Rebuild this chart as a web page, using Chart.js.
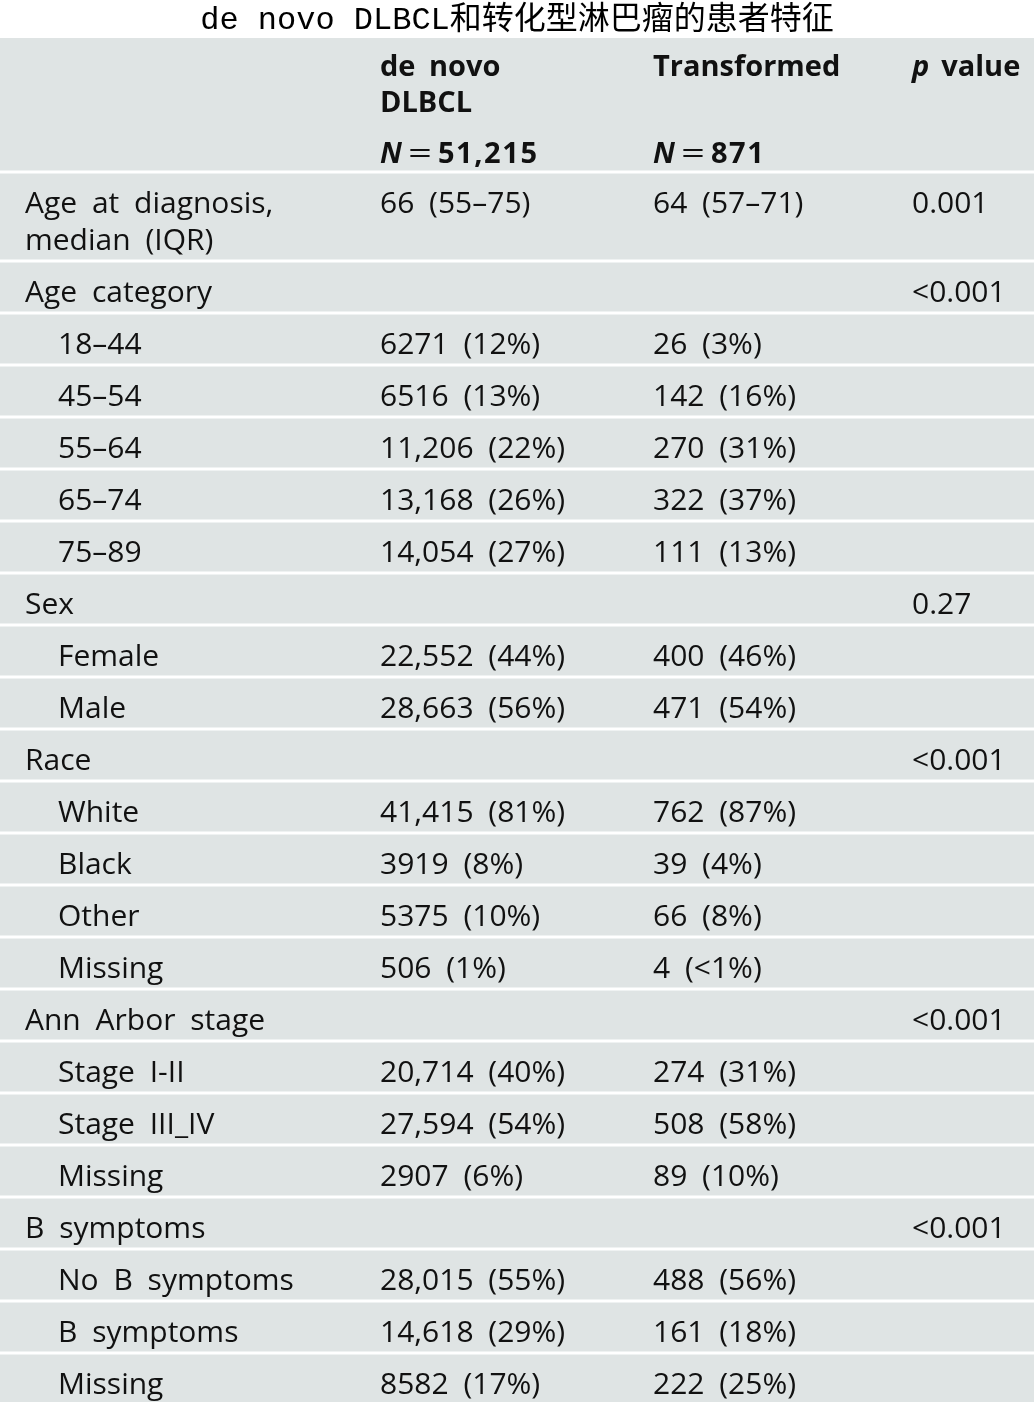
<!DOCTYPE html>
<html>
<head>
<meta charset="utf-8">
<script src="https://cdn.jsdelivr.net/npm/chart.js@4.4.1/dist/chart.umd.min.js"></script>
<style>
  html, body { margin: 0; padding: 0; background: #fff; }
</style>
</head>
<body>
<canvas id="tbl" width="1034" height="1402"></canvas>
<script>
// table content
const titleText = 'de novo DLBCL和转化型淋巴瘤的患者特征';
const colHeads = [['de novo', 'DLBCL'], ['Transformed'], ['value']];
const groupN = ['51,215', '871'];

const rowLabels = [
  'Age at diagnosis,\nmedian (IQR)', 'Age category', '18–44', '45–54', '55–64', '65–74', '75–89',
  'Sex', 'Female', 'Male',
  'Race', 'White', 'Black', 'Other', 'Missing',
  'Ann Arbor stage', 'Stage I-II', 'Stage III_IV', 'Missing',
  'B symptoms', 'No B symptoms', 'B symptoms', 'Missing'
];
const rowLevel = [0, 0, 1, 1, 1, 1, 1, 0, 1, 1, 0, 1, 1, 1, 1, 0, 1, 1, 1, 0, 1, 1, 1];
const deNovo = [
  '66 (55–75)', '', '6271 (12%)', '6516 (13%)', '11,206 (22%)', '13,168 (26%)', '14,054 (27%)',
  '', '22,552 (44%)', '28,663 (56%)',
  '', '41,415 (81%)', '3919 (8%)', '5375 (10%)', '506 (1%)',
  '', '20,714 (40%)', '27,594 (54%)', '2907 (6%)',
  '', '28,015 (55%)', '14,618 (29%)', '8582 (17%)'
];
const transformed = [
  '64 (57–71)', '', '26 (3%)', '142 (16%)', '270 (31%)', '322 (37%)', '111 (13%)',
  '', '400 (46%)', '471 (54%)',
  '', '762 (87%)', '39 (4%)', '66 (8%)', '4 (<1%)',
  '', '274 (31%)', '508 (58%)', '89 (10%)',
  '', '488 (56%)', '161 (18%)', '222 (25%)'
];
const pValues = [
  '0.001', '<0.001', '', '', '', '', '',
  '0.27', '', '',
  '<0.001', '', '', '', '',
  '<0.001', '', '', '',
  '<0.001', '', '', ''
];

const FAMILY = "'Open Sans', 'Noto Sans', sans-serif";
const FS = 30, FSB = 29;
const BG = '#dfe4e4';
const colX = [25, 58, 380, 653, 912]; // label, indented label, three value columns
const headH = 134, rowH = 52, lineH = 37;

function rowHeight(i) { return rowLabels[i].split('\n').length > 1 ? rowH + lineH : rowH; }
const tableH = 1364;

// draw text word by word with wider gaps, like the typeset original
function spaced(ctx, text, x, y, extra) {
  const sp = ctx.measureText(' ').width + extra;
  text.split(' ').forEach(w => {
    ctx.fillText(w, x, y);
    x += ctx.measureText(w).width + sp;
  });
  return x - sp;
}

const tablePlugin = {
  id: 'tableCells',
  beforeDatasetsDraw(chart) {
    const { ctx, scales: { x, y } } = chart;
    const px = v => x.getPixelForValue(v);
    const py = v => y.getPixelForValue(v);
    ctx.save();
    ctx.fillStyle = BG;
    ctx.fillRect(px(0), py(0), px(1034) - px(0), py(tableH) - py(0));
    ctx.fillStyle = '#111';
    ctx.textBaseline = 'alphabetic';

    // header
    const bold = 'bold ' + FSB + 'px ' + FAMILY;
    const boldIt = 'italic bold ' + FSB + 'px ' + FAMILY;
    colHeads.forEach((lines, c) => {
      lines.forEach((t, k) => {
        let xx = px(colX[c + 2]);
        if (c === 2) {
          ctx.font = boldIt;
          ctx.fillText('p', xx, py(38));
          xx += ctx.measureText('p').width + 12;
        }
        ctx.font = bold;
        spaced(ctx, t, xx, py(38 + k * 36), 6);
      });
    });
    groupN.forEach((n, c) => {
      let xx = px(colX[c + 2]);
      const yy = py(125);
      ctx.font = boldIt;
      ctx.fillText('N', xx, yy);
      xx += ctx.measureText('N').width + 6;
      // long thin equals sign
      ctx.font = FS + 'px ' + FAMILY;
      const ew = ctx.measureText('=').width;
      ctx.save();
      ctx.translate(xx, yy);
      ctx.scale(24 / ew, 1);
      ctx.fillText('=', 0, 0);
      ctx.restore();
      xx += 24 + 6;
      ctx.font = bold;
      ctx.save();
      if ('letterSpacing' in ctx) ctx.letterSpacing = '1.6px';
      ctx.fillText(n, xx, yy);
      ctx.restore();
    });

    // body rows
    ctx.font = FS + 'px ' + FAMILY;
    let top = headH;
    rowLabels.forEach((lab, i) => {
      ctx.fillStyle = '#ffffff';
      ctx.fillRect(px(0), py(top) - 1.5, px(1034) - px(0), 3);
      ctx.fillStyle = '#111';
      const base = top + 41;
      lab.split('\n').forEach((t, k) => {
        spaced(ctx, t, px(colX[rowLevel[i]]), py(base + k * lineH), 7);
      });
      spaced(ctx, deNovo[i], px(colX[2]), py(base), 7);
      spaced(ctx, transformed[i], px(colX[3]), py(base), 7);
      spaced(ctx, pValues[i], px(colX[4]), py(base), 7);
      top += rowHeight(i);
    });
    ctx.restore();
  }
};

new Chart(document.getElementById('tbl'), {
  type: 'scatter',
  data: { datasets: [{ data: [] }] },
  options: {
    responsive: false,
    animation: false,
    layout: { padding: 0 },
    scales: {
      x: { type: 'linear', min: 0, max: 1034, display: false },
      y: { type: 'linear', min: 0, max: tableH, reverse: true, display: false }
    },
    plugins: {
      legend: { display: false },
      tooltip: { enabled: false },
      title: {
        display: true,
        text: titleText,
        color: '#000',
        font: { family: "'Liberation Mono', 'DejaVu Sans Mono', 'Noto Sans CJK SC', monospace", size: 32, weight: 'normal', lineHeight: 1 },
        padding: { top: 5, bottom: 1 }
      }
    }
  },
  plugins: [tablePlugin]
});
</script>
</body>
</html>
